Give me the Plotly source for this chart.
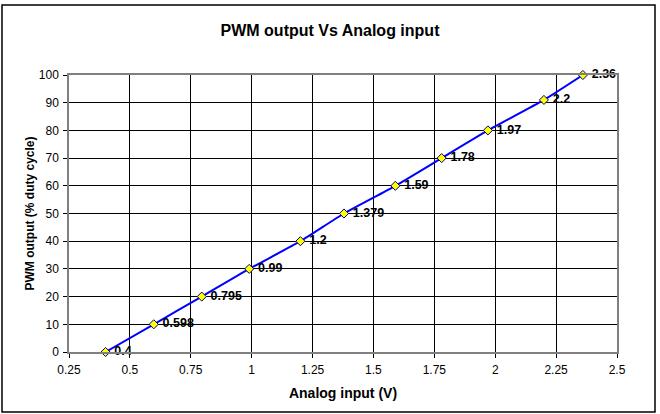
import plotly.graph_objects as go

analog_input = [0.4, 0.598, 0.795, 0.99, 1.2, 1.379, 1.59, 1.78, 1.97, 2.2, 2.36]
pwm_output = [0, 10, 20, 30, 40, 50, 60, 70, 80, 91, 100]
point_labels = ["0.4", "0.598", "0.795", "0.99", "1.2", "1.379", "1.59", "1.78", "1.97", "2.2", "2.36"]
x_ticks = [0.25, 0.5, 0.75, 1, 1.25, 1.5, 1.75, 2, 2.25, 2.5]
y_ticks = [0, 10, 20, 30, 40, 50, 60, 70, 80, 90, 100]

W, H = 660, 414
L, R, T, B = 69, 43, 75, 62
pw, ph = W - L - R, H - T - B
FONT = "Arial, Liberation Sans"

fig = go.Figure()
fig.add_trace(go.Scatter(
    x=analog_input, y=pwm_output,
    mode="lines+markers+text",
    line=dict(color="#0000ff", width=2, shape="spline", smoothing=0.6),
    marker=dict(symbol="diamond", size=7, color="#ffff00", line=dict(color="#000080", width=1)),
    text=["\u00a0" + t for t in point_labels], textposition="middle right",
    textfont=dict(family=FONT, size=12.5, color="black", weight="bold"),
    cliponaxis=False, showlegend=False,
))

axis_common = dict(
    showgrid=True, gridcolor="#000000", gridwidth=1,
    showline=True, linecolor="#808080", linewidth=1.5, mirror=True,
    ticks="outside", ticklen=4, tickcolor="#000000",
    tickfont=dict(family=FONT, size=12, color="black"),
    zeroline=False,
)
fig.update_xaxes(range=[0.25, 2.5], tickvals=x_ticks, ticktext=[str(v) for v in x_ticks],
                 ticklabelstandoff=2,
                 title=dict(text="<b>Analog input (V)</b>", standoff=12,
                            font=dict(family=FONT, size=14, color="black")),
                 **axis_common)
fig.update_yaxes(range=[0, 100], tickvals=y_ticks, ticklabelstandoff=2,
                 title=dict(text="<b>PWM output (% duty cycle)</b>", standoff=2,
                            font=dict(family=FONT, size=12, color="black")),
                 **axis_common)

def px_x(p):
    return (p - L) / pw

def px_y(p):
    return (H - B - p) / ph

fig.add_shape(type="rect", xref="paper", yref="paper",
              x0=px_x(2), x1=px_x(655), y0=px_y(412), y1=px_y(5),
              line=dict(color="black", width=1.5), fillcolor="rgba(0,0,0,0)", layer="below")

fig.update_layout(
    width=W, height=H,
    margin=dict(l=L, r=R, t=T, b=B),
    paper_bgcolor="white", plot_bgcolor="white",
    title=dict(text="<b>PWM output Vs Analog input</b>", x=0.5, xanchor="center",
               y=1 - 30 / H, yanchor="middle",
               font=dict(family=FONT, size=16, color="black")),
)

fig.write_html("out.html", config={"displayModeBar": False})

with open("out.html", "r", encoding="utf-8") as f:
    html = f.read()
html = html.replace("<head>", "<head><style>html,body{margin:0;padding:0;overflow:hidden;}</style>", 1)
with open("out.html", "w", encoding="utf-8") as f:
    f.write(html)
